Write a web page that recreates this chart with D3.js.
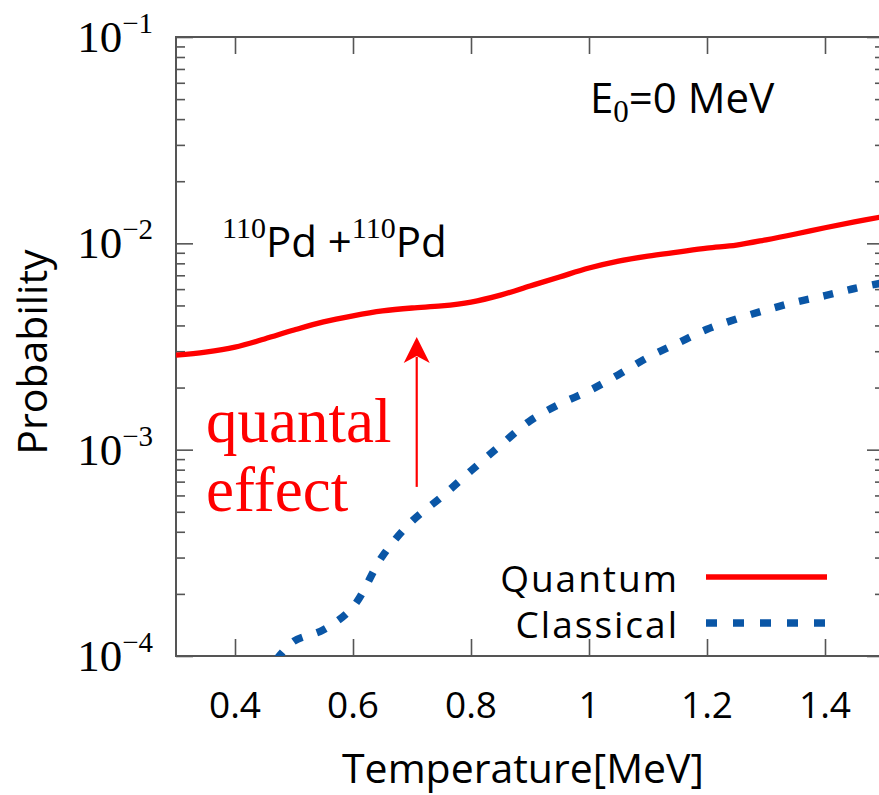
<!DOCTYPE html>
<html>
<head>
<meta charset="utf-8">
<script src="https://cdn.jsdelivr.net/npm/d3@7"></script>
<style>
  html, body { margin: 0; padding: 0; background: #fff; }
  svg { display: block; }
</style>
</head>
<body>
<svg id="chart" width="879" height="795"></svg>
<script>
// Temperature grid (MeV) and probabilities for each model
const quantumT = [0.30, 0.35, 0.40, 0.45, 0.50, 0.55, 0.60, 0.65, 0.70, 0.75, 0.80, 0.85, 0.90,
                  0.95, 1.00, 1.05, 1.10, 1.15, 1.20, 1.25, 1.30, 1.35, 1.40, 1.45, 1.50];
const quantumP = [2.87e-3, 2.97e-3, 3.14e-3, 3.44e-3, 3.80e-3, 4.16e-3, 4.45e-3, 4.70e-3, 4.86e-3,
                  4.97e-3, 5.19e-3, 5.61e-3, 6.21e-3, 6.87e-3, 7.59e-3, 8.20e-3, 8.67e-3, 9.07e-3,
                  9.48e-3, 9.81e-3, 1.04e-2, 1.11e-2, 1.19e-2, 1.27e-2, 1.35e-2];

const classicalT = [0.47, 0.50, 0.55, 0.60, 0.65, 0.70, 0.75, 0.80, 0.85, 0.90, 0.95, 1.00, 1.05,
                    1.10, 1.15, 1.20, 1.25, 1.30, 1.35, 1.40, 1.45, 1.50];
const classicalP = [9.6e-5, 1.18e-4, 1.34e-4, 1.73e-4, 3.05e-4, 4.5e-4, 5.9e-4, 7.9e-4, 1.05e-3,
                    1.38e-3, 1.66e-3, 1.93e-3, 2.31e-3, 2.80e-3, 3.28e-3, 3.83e-3, 4.30e-3, 4.75e-3,
                    5.19e-3, 5.58e-3, 6.04e-3, 6.45e-3];

// Axis ticks
const xTickValues = [0.4, 0.6, 0.8, 1.0, 1.2, 1.4];
const xTickLabels = ["0.4", "0.6", "0.8", "1", "1.2", "1.4"];
const yMajorTicks = [1e-4, 1e-3, 1e-2, 1e-1];
const yExponents = ["\u22124", "\u22123", "\u22122", "\u22121"];

// Series and annotation texts
const seriesNames = ["Quantum", "Classical"];
const annotationLines = ["quantal", "effect"];
// quantal-effect arrow: temperature and start/end probability
const arrowT = 0.708;
const arrowFrom = 6.6e-4;
const arrowTo = 3.52e-3;

const svg = d3.select("#chart");
const L = 176, R = 884, T = 37, B = 656;

const x = d3.scaleLinear().domain([0.3, 1.5]).range([L, R]);
const y = d3.scaleLog().domain([1e-4, 1e-1]).range([B, T]);

const axisColor = "#555";
const sans = "'Open Sans', 'DejaVu Sans', sans-serif";
const serif = "'Liberation Serif', 'DejaVu Serif', serif";

// minor log ticks (2..9 within each decade)
const yMinorTicks = [];
for (let e = -4; e < -1; e++) {
  for (let k = 2; k <= 9; k++) yMinorTicks.push(k * Math.pow(10, e));
}

function styleAxis(g) {
  g.select(".domain").remove();
  g.selectAll(".tick line").attr("stroke", axisColor).attr("stroke-width", 1.6);
  g.selectAll(".tick text").remove();
}

// Left axis (ticks pointing inward)
svg.append("g").attr("transform", `translate(${L},0)`)
  .call(d3.axisRight(y).tickValues(yMajorTicks).tickSize(17).tickFormat(""))
  .call(styleAxis);
svg.append("g").attr("transform", `translate(${L},0)`)
  .call(d3.axisRight(y).tickValues(yMinorTicks).tickSize(9).tickFormat(""))
  .call(styleAxis);
// Right axis
svg.append("g").attr("transform", `translate(${R},0)`)
  .call(d3.axisLeft(y).tickValues(yMajorTicks).tickSize(17).tickFormat(""))
  .call(styleAxis);
svg.append("g").attr("transform", `translate(${R},0)`)
  .call(d3.axisLeft(y).tickValues(yMinorTicks).tickSize(9).tickFormat(""))
  .call(styleAxis);
// Bottom and top axes
svg.append("g").attr("transform", `translate(0,${B})`)
  .call(d3.axisTop(x).tickValues(xTickValues).tickSize(17).tickFormat(""))
  .call(styleAxis);
svg.append("g").attr("transform", `translate(0,${T})`)
  .call(d3.axisBottom(x).tickValues(xTickValues).tickSize(17).tickFormat(""))
  .call(styleAxis);

// Frame
svg.append("rect")
  .attr("x", L).attr("y", T).attr("width", R - L).attr("height", B - T)
  .attr("fill", "none").attr("stroke", axisColor).attr("stroke-width", 2);

// Y tick labels: 10^n
const yLab = svg.append("g");
yMajorTicks.forEach((v, i) => {
  const t = yLab.append("text")
    .attr("x", 153).attr("y", y(v) + 15)
    .attr("text-anchor", "end")
    .attr("font-family", serif).attr("fill", "#000");
  t.append("tspan").attr("font-size", 45).text("10");
  t.append("tspan").attr("font-size", 29).attr("dy", -19).text(yExponents[i]);
});

// X tick labels
svg.append("g").selectAll("text").data(xTickValues).join("text")
  .attr("x", d => x(d)).attr("y", 718)
  .attr("text-anchor", "middle")
  .attr("font-family", sans).attr("font-size", 37).attr("fill", "#000")
  .text((d, i) => xTickLabels[i]);

// Axis titles
svg.append("text")
  .attr("x", 523).attr("y", 783)
  .attr("text-anchor", "middle")
  .attr("font-family", sans).attr("font-size", 41).attr("fill", "#000")
  .text("Temperature[MeV]");
svg.append("text")
  .attr("transform", "translate(47,352) rotate(-90)")
  .attr("text-anchor", "middle")
  .attr("font-family", sans).attr("font-size", 41).attr("fill", "#000")
  .text("Probability");

// Clip curves to plot area
svg.append("defs").append("clipPath").attr("id", "plot-clip")
  .append("rect").attr("x", L).attr("y", T).attr("width", R - L).attr("height", B - T);

const line = d3.line()
  .x(d => x(d[0])).y(d => y(d[1]))
  .curve(d3.curveCatmullRom.alpha(0.5));

const plot = svg.append("g").attr("clip-path", "url(#plot-clip)");

const red = "#ff0000";
const blue = "#0a56a6";

plot.append("path")
  .datum(classicalT.map((t, i) => [t, classicalP[i]]))
  .attr("d", line)
  .attr("fill", "none").attr("stroke", blue)
  .attr("stroke-width", 7.5).attr("stroke-dasharray", "10,15");

plot.append("path")
  .datum(quantumT.map((t, i) => [t, quantumP[i]]))
  .attr("d", line)
  .attr("fill", "none").attr("stroke", red)
  .attr("stroke-width", 5.3);

// Annotations
svg.append("text")
  .attr("x", 590).attr("y", 113)
  .attr("font-family", sans).attr("font-size", 42).attr("fill", "#000")
  .call(t => {
    t.append("tspan").text("E");
    t.append("tspan").attr("font-family", serif).attr("font-size", 31).attr("dy", 9).text("0");
    t.append("tspan").attr("dy", -9).text("=0 MeV");
  });

svg.append("text")
  .attr("x", 222).attr("y", 257)
  .attr("font-family", sans).attr("font-size", 42).attr("fill", "#000")
  .call(t => {
    t.append("tspan").attr("font-family", serif).attr("font-size", 30).attr("dy", -19).text("110");
    t.append("tspan").attr("dy", 19).text("Pd +");
    t.append("tspan").attr("font-family", serif).attr("font-size", 30).attr("dy", -19).text("110");
    t.append("tspan").attr("dy", 19).text("Pd");
  });

svg.append("g").selectAll("text").data(annotationLines).join("text")
  .attr("x", 206).attr("y", (d, i) => 442 + i * 69)
  .attr("font-family", serif).attr("font-size", 63).attr("fill", red)
  .text(d => d);

// Arrow from classical toward quantum
const ax = x(arrowT), ay0 = y(arrowFrom), ay1 = y(arrowTo);
svg.append("line")
  .attr("x1", ax).attr("x2", ax).attr("y1", ay0).attr("y2", ay1 + 20)
  .attr("stroke", red).attr("stroke-width", 2.2);
svg.append("path")
  .attr("d", `M${ax},${ay1} L${ax + 13},${ay1 + 26} L${ax},${ay1 + 19} L${ax - 13},${ay1 + 26} Z`)
  .attr("fill", red);

// Legend
const legend = svg.append("g");
const legendRows = [
  { name: seriesNames[0], y: 577, stroke: red, width: 5.3, dash: null },
  { name: seriesNames[1], y: 623, stroke: blue, width: 7.5, dash: "11,16" }
];
legendRows.forEach(r => {
  legend.append("text")
    .attr("x", 679).attr("y", r.y + 15)
    .attr("text-anchor", "end")
    .attr("font-family", sans).attr("font-size", 37)
    .attr("letter-spacing", 2).attr("fill", "#000")
    .text(r.name);
  legend.append("line")
    .attr("x1", 706).attr("x2", 827).attr("y1", r.y).attr("y2", r.y)
    .attr("stroke", r.stroke).attr("stroke-width", r.width)
    .attr("stroke-dasharray", r.dash);
});
</script>
</body>
</html>
